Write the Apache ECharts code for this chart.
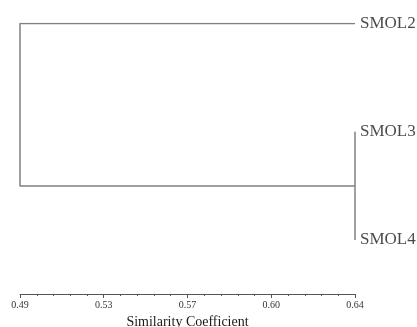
<!DOCTYPE html>
<html>
<head>
<meta charset="utf-8">
<script src="https://cdn.jsdelivr.net/npm/echarts@6/dist/echarts.min.js"></script>
<style>
  html, body { margin: 0; padding: 0; background: #fff; }
  #main { width: 417px; height: 327px; }
</style>
</head>
<body>
<div id="main"></div>
<script>
(function () {
    var myChart = echarts.init(document.getElementById('main'));

    // leaves, top to bottom
    var leaves = ['SMOL2', 'SMOL3', 'SMOL4'];
    var leafSim = 0.64;
    // merges: [child a, child b, similarity]; new node index = leaves.length + k
    var merges = [
        [1, 2, 0.64],
        [0, 3, 0.49]
    ];
    // axis ticks
    var tickValues = [0.49, 0.5275, 0.565, 0.6025, 0.64];
    var tickLabels = ['0.49', '0.53', '0.57', '0.60', '0.64'];
    var minorPerMajor = 5;

    var serif = 'Liberation Serif';

    // node positions
    var nodes = leaves.map(function (n, i) { return { x: leafSim, y: i }; });
    var series = [];
    merges.forEach(function (m) {
        var a = nodes[m[0]], b = nodes[m[1]];
        nodes.push({ x: m[2], y: (a.y + b.y) / 2 });
        series.push({
            type: 'line',
            xAxisIndex: 0,
            symbol: 'none',
            silent: true,
            lineStyle: { color: '#808080', width: 1.5 },
            data: [[a.x, a.y], [m[2], a.y], [m[2], b.y], [b.x, b.y]]
        });
    });
    // leaf labels
    series.push({
        type: 'scatter',
        xAxisIndex: 0,
        symbolSize: 0,
        silent: true,
        label: {
            show: true,
            position: 'right',
            distance: 5,
            color: '#1a1a1a',
            fontFamily: serif,
            fontSize: 17,
            formatter: function (p) { return leaves[p.dataIndex]; }
        },
        data: leaves.map(function (n, i) { return [leafSim, i]; })
    });

    var minorValues = [];
    for (var i = 0; i < tickValues.length - 1; i++) {
        var step = (tickValues[i + 1] - tickValues[i]) / minorPerMajor;
        for (var j = 1; j < minorPerMajor; j++) minorValues.push(tickValues[i] + step * j);
    }

    myChart.setOption({
        backgroundColor: '#fff',
        animation: false,
        grid: { left: 20, right: 62, top: 23.5, bottom: 87, outerBoundsMode: 'none' },
        xAxis: [
            {
                type: 'value',
                min: 0.49,
                max: 0.64,
                position: 'bottom',
                offset: 54,
                splitLine: { show: false },
                axisLine: { show: true, onZero: false, lineStyle: { color: '#555', width: 1 } },
                axisTick: { show: true, length: 4, customValues: tickValues, lineStyle: { color: '#555' } },
                axisLabel: {
                    customValues: tickValues,
                    margin: 6,
                    color: '#333',
                    fontFamily: serif,
                    fontSize: 10,
                    formatter: function (v) {
                        var k = tickValues.indexOf(v);
                        return k >= 0 ? tickLabels[k] : '';
                    }
                },
                name: 'Similarity Coefficient',
                nameLocation: 'middle',
                nameGap: 19,
                nameTextStyle: { color: '#1a1a1a', fontFamily: serif, fontSize: 14 }
            },
            {
                type: 'value',
                min: 0.49,
                max: 0.64,
                position: 'bottom',
                offset: 54,
                splitLine: { show: false },
                axisLine: { show: false, onZero: false },
                axisTick: { show: true, length: 2, customValues: minorValues, lineStyle: { color: '#555' } },
                axisLabel: { show: false }
            }
        ],
        yAxis: {
            type: 'value',
            min: 0,
            max: leaves.length - 1,
            inverse: true,
            show: false
        },
        series: series
    });
})();
</script>
</body>
</html>
